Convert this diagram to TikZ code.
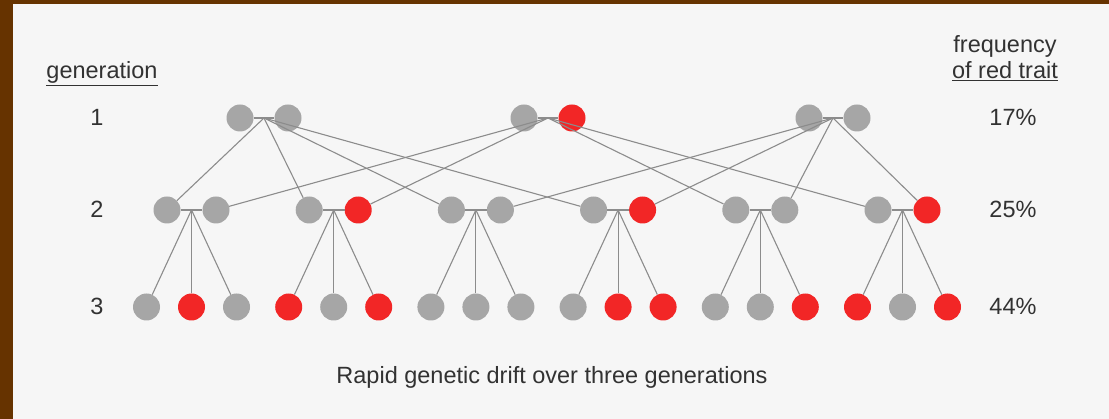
\documentclass[tikz,border=0pt]{standalone}
\usepackage{fontspec}
\setmainfont{Liberation Sans}
\definecolor{framebrown}{RGB}{102,51,0}
\definecolor{paper}{RGB}{246,246,246}
\definecolor{dotgrey}{RGB}{166,166,166}
\definecolor{dotred}{RGB}{242,38,38}
\definecolor{linkgrey}{RGB}{140,140,140}
\definecolor{textgrey}{RGB}{50,50,50}
\tikzset{
  dot/.style={circle, inner sep=0pt, minimum size=27pt},
  gdot/.style={dot, fill=dotgrey},
  rdot/.style={dot, fill=dotred},
  link/.style={draw=linkgrey, line width=1.1pt},
  txt/.style={font=\fontsize{23.5}{28}\selectfont, text=textgrey, anchor=base, inner sep=0pt}
}
\begin{document}
\begin{tikzpicture}[x=1pt,y=-1pt]
    \fill[framebrown] (0,0) rectangle (1109,419);
    \fill[paper] (13,4) rectangle (1109,419);
    \useasboundingbox (0,0) rectangle (1109,419);

    % generation 1
    \foreach \p/\x/\st in {a/240/gdot,b/524/rdot,c/809/gdot} {
        \node[gdot] (\p1) at (\x,118) {};
        \node[\st] (\p2) at (\x+48,118) {};
        \coordinate (\p j) at (\x+24,118);
        \draw[link] (\p1) -- (\p2);
    }

    % generation 2
    \foreach \i/\st in {0/gdot,1/rdot,2/gdot,3/rdot,4/gdot,5/rdot} {
        \pgfmathsetmacro\x{167+142.2*\i}
        \node[gdot] (p\i) at (\x,210) {};
        \node[\st] (q\i) at (\x+49,210) {};
        \coordinate (j\i) at (\x+24.5,210);
        \draw[link] (p\i) -- (q\i);
    }

    % generation 3
    \foreach \i/\sa/\sb/\sc in {0/gdot/rdot/gdot,1/rdot/gdot/rdot,2/gdot/gdot/gdot,
                                 3/gdot/rdot/rdot,4/gdot/gdot/rdot,5/rdot/gdot/rdot} {
        \pgfmathsetmacro\x{191.5+142.2*\i}
        \node[\sa] (k\i-a) at (\x-45,307) {};
        \node[\sb] (k\i-b) at (\x,307) {};
        \node[\sc] (k\i-c) at (\x+45,307) {};
        \draw[link] (j\i) -- (k\i-a);
        \draw[link] (j\i) -- (k\i-b);
        \draw[link] (j\i) -- (k\i-c);
    }

    % parents
    \foreach \t in {p0,p1,p2,p3}
        \draw[link] (aj) -- (\t);
    \foreach \t in {q0,q1,p4,p5}
        \draw[link] (bj) -- (\t);
    \foreach \t in {q2,q3,q4,q5}
        \draw[link] (cj) -- (\t);

    % labels
    \node[txt] (gen) at (102,79) {\underline{generation}};
    \foreach \r/\y in {1/126,2/218,3/315}
        \node[txt] (g\r) at (97,\y) {\r};
    \node[txt] (freq) at (1005,53) {frequency};
    \node[txt] (trait) at (1005,79) {\underline{of red trait}};
    \node[txt] (f1) at (1013,126) {17\%};
    \node[txt] (f2) at (1013,218) {25\%};
    \node[txt] (f3) at (1013,315) {44\%};
    \node[txt] (caption) at (552,384) {Rapid genetic drift over three generations};
\end{tikzpicture}
\end{document}
